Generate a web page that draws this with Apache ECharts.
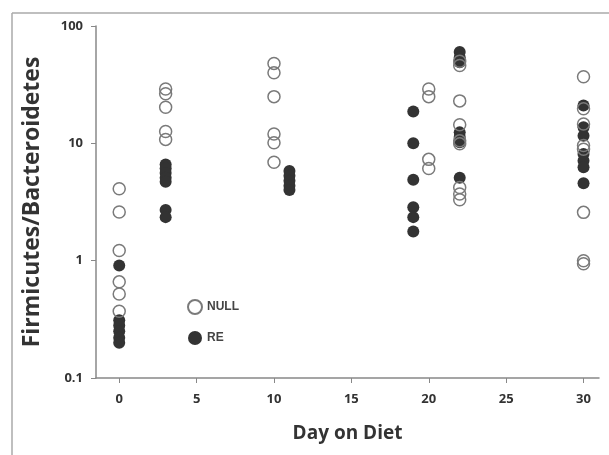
<!DOCTYPE html>
<html>
<head>
<meta charset="utf-8">
<script src="https://cdn.jsdelivr.net/npm/echarts@6/dist/echarts.min.js"></script>
<style>html,body{margin:0;padding:0;background:#fff}#c{width:609px;height:455px}</style>
</head>
<body>
<div id="c"></div>
<script>
// NULL group (open circles)
const nullDays   = [0,0,0,0,0,0, 3,3,3,3,3, 10,10,10,10,10,10, 20,20,20,20, 22,22,22,22,22,22,22,22,22, 30,30,30,30,30,30,30,30];
const nullValues = [4.1,2.6,1.22,0.66,0.52,0.37, 29,26.5,20.3,12.6,10.8, 48,40,25,12,10.1,6.9, 29,25,7.3,6.1, 50,46,23,14.4,10.5,9.9,4.2,3.7,3.3, 37,19.7,14.6,9.6,8.9,2.58,1.0,0.94];
// RE group (filled circles)
const reDays   = [0,0,0,0,0,0, 3,3,3,3,3,3,3, 11,11,11,11,11, 19,19,19,19,19,19, 22,22,22,22,22,22,22, 30,30,30,30,30,30,30];
const reValues = [0.91,0.31,0.28,0.25,0.22,0.2, 6.6,6.1,5.6,5.1,4.7,2.7,2.35, 5.8,5.3,4.8,4.35,4.0, 18.7,10,4.9,2.85,2.35,1.77, 60,54,49,12.4,11.3,10.2,5.1, 21,13.7,11.6,8.1,7.1,6.25,4.56];
const xTicks = [0,5,10,15,20,25,30];
const yTickLabels = ['0.1','1','10','100'];
const seriesNames = ['NULL','RE'];

const zip = (xs, ys) => xs.map((x, i) => [x, ys[i]]);
const chart = echarts.init(document.getElementById('c'));
const font = 'Open Sans';
chart.setOption({
  animation: false,
  backgroundColor: '#fff',
  grid: {left: 96, right: 10, top: 26, bottom: 77, containLabel: false},
  graphic: [
    {type: 'line', shape: {x1: 12, y1: 13, x2: 609, y2: 13}, style: {stroke: '#aaa', lineWidth: 1.5}},
    {type: 'line', shape: {x1: 12, y1: 13, x2: 12, y2: 455}, style: {stroke: '#aaa', lineWidth: 1.5}}
  ],
  legend: {
    orient: 'vertical', left: 182, top: 294, itemGap: 16,
    itemWidth: 14, itemHeight: 14, icon: 'circle',
    textStyle: {fontFamily: 'Liberation Sans', fontWeight: 'bold', fontSize: 12, color: '#444'},
    data: seriesNames
  },
  xAxis: {
    type: 'value', min: -1.5, max: 31,
    name: 'Day on Diet', nameLocation: 'middle', nameGap: 46,
    nameTextStyle: {fontFamily: font, fontWeight: 'bold', fontSize: 19, color: '#333'},
    axisLine: {onZero: false, lineStyle: {color: '#888', width: 1.5}},
    axisTick: {show: true, length: 5, lineStyle: {color: '#888'}, customValues: xTicks},
    axisLabel: {customValues: xTicks, margin: 15, fontFamily: font, fontWeight: 'bold', fontSize: 13, color: '#333'},
    splitLine: {show: false}
  },
  yAxis: {
    type: 'log', logBase: 10, min: 0.1, max: 100,
    name: 'Firmicutes/Bacteroidetes', nameLocation: 'middle', nameGap: 52,
    nameTextStyle: {fontFamily: font, fontWeight: 'bold', fontSize: 23, color: '#333'},
    axisLine: {show: true, onZero: false, lineStyle: {color: '#888', width: 1.5}},
    axisTick: {show: true, length: 5, lineStyle: {color: '#888'}},
    minorTick: {show: false},
    axisLabel: {margin: 13, fontFamily: font, fontWeight: 'bold', fontSize: 13, color: '#333',
      formatter: (v, i) => yTickLabels[i]},
    splitLine: {show: false}
  },
  series: [
    {name: seriesNames[1], type: 'scatter', symbol: 'circle', symbolSize: 12,
      itemStyle: {color: '#333', opacity: 1},
      data: zip(reDays, reValues), z: 2},
    {name: seriesNames[0], type: 'scatter', symbol: 'circle', symbolSize: 12,
      itemStyle: {color: 'rgba(255,255,255,0)', borderColor: '#7a7a7a', borderWidth: 1.5, opacity: 1},
      data: zip(nullDays, nullValues), z: 3}
  ]
});
</script>
</body>
</html>
